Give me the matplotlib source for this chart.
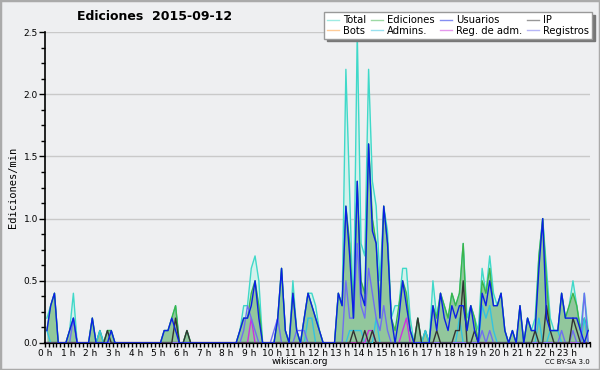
import numpy as np
import matplotlib
matplotlib.use('Agg')
import matplotlib.pyplot as plt
from matplotlib.ticker import MultipleLocator, FormatStrFormatter
from matplotlib.patches import Rectangle

# valores por franja de 10 minutos (144 franjas), ediciones/min
total = [
    0.2, 0.3, 0.4, 0, 0, 0, 0.1, 0.4, 0, 0, 0, 0,
    0.2, 0, 0.1, 0, 0.1, 0.1, 0, 0, 0, 0, 0, 0,
    0, 0, 0, 0, 0, 0, 0, 0.1, 0.1, 0.2, 0.3, 0,
    0, 0.1, 0, 0, 0, 0, 0, 0, 0, 0, 0, 0,
    0, 0, 0, 0.1, 0.3, 0.3, 0.6, 0.7, 0.5, 0, 0, 0,
    0, 0.2, 0.6, 0.1, 0, 0.5, 0.1, 0, 0.2, 0.4, 0.4, 0.3,
    0.1, 0, 0, 0, 0, 0.4, 0.3, 2.2, 1.2, 0.2, 2.5, 0.8,
    0.7, 2.2, 1.3, 1.1, 0.5, 1.1, 0.9, 0.2, 0.3, 0.3, 0.6, 0.6,
    0.2, 0, 0.2, 0, 0.1, 0, 0.5, 0.2, 0.4, 0.3, 0.2, 0.4,
    0.3, 0.4, 0.8, 0.2, 0.3, 0.2, 0.1, 0.6, 0.4, 0.7, 0.4, 0.3,
    0.4, 0.1, 0, 0.1, 0, 0.3, 0, 0.2, 0.1, 0.2, 0.7, 1.0,
    0.6, 0.2, 0.1, 0.1, 0.4, 0.2, 0.3, 0.5, 0.3, 0.1, 0.4, 0.1,
]
ediciones = [
    0.1, 0.3, 0.4, 0, 0, 0, 0.1, 0.2, 0, 0, 0, 0,
    0.2, 0, 0.1, 0, 0.1, 0.1, 0, 0, 0, 0, 0, 0,
    0, 0, 0, 0, 0, 0, 0, 0.1, 0.1, 0.2, 0.3, 0,
    0, 0.1, 0, 0, 0, 0, 0, 0, 0, 0, 0, 0,
    0, 0, 0, 0.1, 0.2, 0.2, 0.4, 0.5, 0.3, 0, 0, 0,
    0, 0.2, 0.6, 0.1, 0, 0.4, 0.1, 0, 0.2, 0.4, 0.3, 0.2,
    0.1, 0, 0, 0, 0, 0.4, 0.3, 1.1, 0.8, 0.2, 1.3, 0.5,
    0.4, 1.6, 1.0, 0.8, 0.3, 1.1, 0.8, 0.2, 0.1, 0.3, 0.5, 0.4,
    0.1, 0, 0.2, 0, 0.1, 0, 0.3, 0.2, 0.4, 0.3, 0.2, 0.4,
    0.3, 0.4, 0.8, 0.1, 0.3, 0.2, 0, 0.5, 0.4, 0.6, 0.3, 0.3,
    0.4, 0.1, 0, 0.1, 0, 0.3, 0, 0.2, 0.1, 0.1, 0.7, 1.0,
    0.5, 0.1, 0.1, 0.1, 0.4, 0.2, 0.3, 0.4, 0.3, 0.1, 0.2, 0.1,
]
usuarios = [
    0.1, 0.3, 0.4, 0, 0, 0, 0.1, 0.2, 0, 0, 0, 0,
    0.2, 0, 0, 0, 0, 0.1, 0, 0, 0, 0, 0, 0,
    0, 0, 0, 0, 0, 0, 0, 0.1, 0.1, 0.2, 0.1, 0,
    0, 0, 0, 0, 0, 0, 0, 0, 0, 0, 0, 0,
    0, 0, 0, 0.1, 0.2, 0.2, 0.3, 0.5, 0.2, 0, 0, 0,
    0, 0.2, 0.6, 0.1, 0, 0.4, 0.1, 0, 0.2, 0.4, 0.3, 0.2,
    0.1, 0, 0, 0, 0, 0.4, 0.3, 1.1, 0.7, 0.2, 1.3, 0.4,
    0.3, 1.6, 0.9, 0.8, 0.2, 1.1, 0.8, 0.2, 0, 0.2, 0.5, 0.3,
    0.1, 0, 0, 0, 0, 0, 0.3, 0.1, 0.4, 0.2, 0.1, 0.3,
    0.2, 0.3, 0.3, 0.1, 0.3, 0.1, 0, 0.4, 0.3, 0.5, 0.3, 0.3,
    0.4, 0.1, 0, 0.1, 0, 0.3, 0, 0.2, 0.1, 0.1, 0.6, 1.0,
    0.2, 0.1, 0.1, 0.1, 0.4, 0.2, 0.2, 0.2, 0.2, 0.1, 0, 0.1,
]
ip = [
    0, 0, 0, 0, 0, 0, 0, 0, 0, 0, 0, 0,
    0, 0, 0, 0, 0.1, 0, 0, 0, 0, 0, 0, 0,
    0, 0, 0, 0, 0, 0, 0, 0, 0, 0, 0.2, 0,
    0, 0.1, 0, 0, 0, 0, 0, 0, 0, 0, 0, 0,
    0, 0, 0, 0, 0, 0, 0, 0, 0, 0, 0, 0,
    0, 0, 0, 0, 0, 0, 0, 0, 0, 0, 0, 0,
    0, 0, 0, 0, 0, 0, 0, 0, 0, 0.1, 0, 0,
    0.1, 0, 0.1, 0, 0, 0, 0, 0, 0, 0, 0, 0,
    0, 0, 0.2, 0, 0, 0, 0, 0.1, 0, 0, 0, 0,
    0.1, 0.1, 0.5, 0, 0, 0.1, 0, 0, 0, 0, 0, 0,
    0, 0, 0, 0, 0, 0, 0, 0, 0, 0.1, 0, 0,
    0.3, 0.1, 0, 0, 0, 0, 0, 0.2, 0.1, 0, 0, 0,
]
bots = [0] * 144
admins = [
    0.1, 0, 0, 0, 0, 0, 0, 0, 0, 0, 0, 0,
    0, 0, 0.1, 0, 0, 0, 0, 0, 0, 0, 0, 0,
    0, 0, 0, 0, 0, 0, 0, 0, 0, 0, 0, 0,
    0, 0, 0, 0, 0, 0, 0, 0, 0, 0, 0, 0,
    0, 0, 0, 0, 0, 0, 0, 0, 0, 0, 0, 0,
    0, 0, 0, 0, 0, 0, 0, 0, 0, 0.2, 0.2, 0,
    0, 0, 0, 0, 0, 0, 0, 0, 0.1, 0.1, 0.1, 0.1,
    0, 0, 0, 0.2, 0, 0, 0, 0, 0, 0, 0, 0,
    0, 0, 0, 0, 0.1, 0, 0, 0, 0, 0, 0, 0,
    0, 0.2, 0, 0, 0, 0, 0, 0.3, 0.2, 0.3, 0.1, 0,
    0, 0, 0, 0, 0, 0, 0, 0, 0, 0, 0.2, 0,
    0, 0.1, 0.1, 0.1, 0, 0, 0, 0, 0, 0, 0.2, 0,
]
reg_adm = [
    0, 0, 0, 0, 0, 0, 0, 0, 0, 0, 0, 0,
    0, 0, 0, 0, 0, 0, 0, 0, 0, 0, 0, 0,
    0, 0, 0, 0, 0, 0, 0, 0, 0, 0, 0, 0,
    0, 0, 0, 0, 0, 0, 0, 0, 0, 0, 0, 0,
    0, 0, 0, 0, 0, 0, 0.2, 0, 0, 0, 0, 0,
    0, 0, 0, 0, 0, 0, 0, 0, 0, 0, 0, 0,
    0, 0, 0, 0, 0, 0, 0, 0, 0, 0, 0, 0,
    0, 0.1, 0.1, 0, 0, 0, 0, 0, 0, 0, 0.1, 0.2,
    0, 0, 0, 0, 0, 0, 0, 0, 0, 0, 0, 0,
    0, 0, 0, 0, 0, 0, 0, 0, 0, 0, 0, 0,
    0, 0, 0, 0, 0, 0, 0, 0, 0, 0, 0, 0,
    0, 0, 0, 0, 0, 0, 0, 0, 0, 0, 0, 0,
]
registros = [
    0, 0, 0, 0, 0, 0, 0, 0.2, 0, 0, 0, 0,
    0, 0, 0, 0, 0, 0, 0, 0, 0, 0, 0, 0,
    0, 0, 0, 0, 0, 0, 0, 0, 0, 0, 0, 0,
    0, 0, 0, 0, 0, 0, 0, 0, 0, 0, 0, 0,
    0, 0, 0, 0, 0.1, 0.3, 0.2, 0.1, 0, 0, 0, 0,
    0.1, 0.2, 0, 0, 0, 0, 0.1, 0.1, 0.1, 0, 0, 0,
    0, 0, 0, 0, 0, 0, 0, 0.5, 0.2, 0.2, 0.8, 0.3,
    0.2, 0.6, 0.4, 0.2, 0.1, 0.3, 0.1, 0, 0, 0, 0, 0,
    0, 0, 0, 0, 0, 0, 0, 0, 0, 0, 0, 0,
    0, 0, 0, 0, 0, 0, 0, 0.1, 0, 0.1, 0, 0,
    0, 0, 0, 0, 0, 0, 0, 0, 0, 0, 0, 0,
    0, 0, 0, 0, 0.1, 0, 0, 0.1, 0, 0, 0.4, 0,
]
hour_labels = [f'{h} h' for h in range(24)]

BG = '#eeeff1'

fig = plt.figure(figsize=(6, 3.7), dpi=100, facecolor=BG)
ax = fig.add_axes([45 / 600, 1 - 343 / 370, 545 / 600, 311 / 370])
ax.set_facecolor(BG)

x = (np.arange(len(total)) + 0.5) / 6

ax.fill_between(x, total, color='#d3f1ec', lw=0, zorder=1)
ax.fill_between(x, ediciones, color='#92c79c', lw=0, zorder=2)

series = [
    ('Total', total, '#3fd9c9'),
    ('Bots', bots, '#ff9a33'),
    ('Ediciones', ediciones, '#3cb44a'),
    ('Admins.', admins, '#33c3e0'),
    ('Usuarios', usuarios, '#0b1fe6'),
    ('Reg. de adm.', reg_adm, '#cc33dd'),
    ('IP', ip, '#333333'),
    ('Registros', registros, '#6f6ff0'),
]
draw_order = ['Total', 'Ediciones', 'Bots', 'Admins.', 'Reg. de adm.', 'Registros', 'IP', 'Usuarios']
handles = {}
for name, vals, col in series:
    z = 3 + draw_order.index(name)
    ln, = ax.plot(x, vals, color=col, lw=1.0, zorder=z)
    handles[name] = ln

ax.set_xlim(0, 24)
ax.set_ylim(0, 2.5)
ax.set_xticks(range(24))
ax.set_xticklabels(hour_labels)
ax.xaxis.set_minor_locator(MultipleLocator(1 / 6))
ax.yaxis.set_major_locator(MultipleLocator(0.5))
ax.yaxis.set_minor_locator(MultipleLocator(0.125))
ax.yaxis.set_major_formatter(FormatStrFormatter('%.1f'))
ax.tick_params(axis='x', which='both', length=3, width=1, labelsize=6.5, pad=1, colors='black')
ax.tick_params(axis='y', which='major', length=4, width=1, labelsize=6.5, pad=1)
ax.tick_params(axis='y', which='minor', length=3, width=1)
ax.yaxis.grid(True, color='#c9c9c9', lw=1)
ax.set_axisbelow(True)
for s in ['top', 'right']:
    ax.spines[s].set_visible(False)
ax.spines['bottom'].set_linewidth(1.6)
ax.spines['left'].set_linewidth(1.2)

ax.set_ylabel('Ediciones/min', family='DejaVu Sans Mono', fontsize=7.5, labelpad=4)

fig.text(155 / 600, 1 - 16 / 370, 'Ediciones  2015-09-12', ha='center', va='center',
         fontsize=9, fontweight='bold')
fig.text(300 / 600, 1 - 361 / 370, 'wikiscan.org', ha='center', va='center', fontsize=6.5)
fig.text(590 / 600, 1 - 362 / 370, 'CC BY-SA 3.0', ha='right', va='center', fontsize=5)

order = ['Total', 'Bots', 'Ediciones', 'Admins.', 'Usuarios', 'Reg. de adm.', 'IP', 'Registros']
leg = fig.legend([handles[n] for n in order], order, ncol=4, loc='upper right',
                 bbox_to_anchor=(592 / 600, 1 - 12 / 370), fontsize=7.2, frameon=True,
                 fancybox=False, shadow={'color': '#777777', 'alpha': 1}, handlelength=1.2,
                 handletextpad=0.4, columnspacing=0.5, labelspacing=0.05, borderpad=0.3,
                 borderaxespad=0)
leg.get_frame().set_edgecolor('#999999')
leg.get_frame().set_linewidth(1)
for ln in leg.get_lines():
    ln.set_alpha(0.5)

fig.patches.append(Rectangle((0, 0), 1, 1, transform=fig.transFigure, fill=False,
                             edgecolor='#aaaaaa', lw=2.5))

fig.savefig('out.png', dpi=100, facecolor=BG)
